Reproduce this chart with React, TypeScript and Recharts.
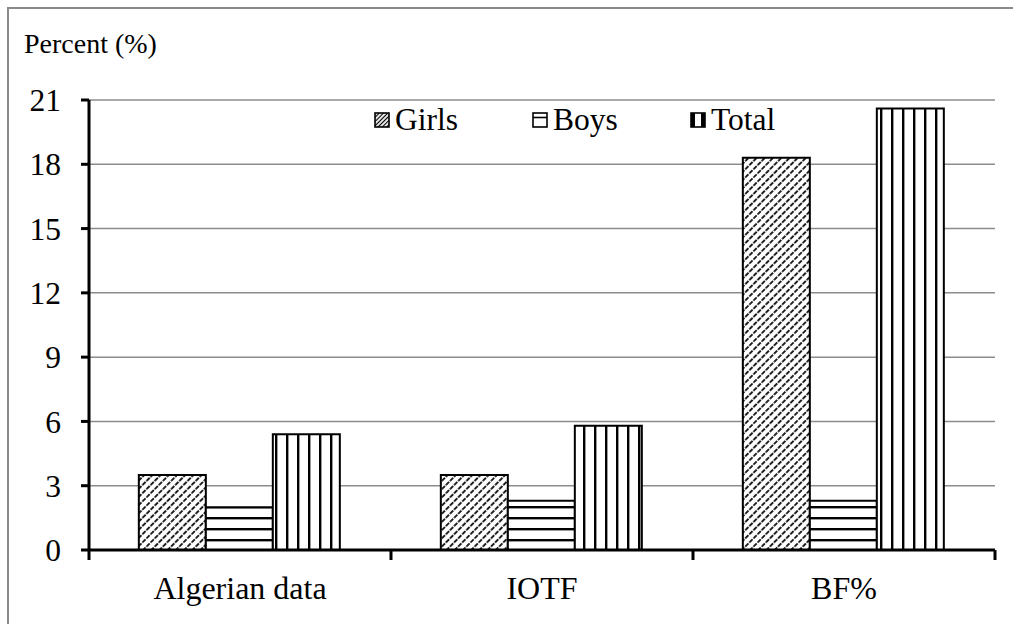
import React from 'react';
import { BarChart, Bar, XAxis, YAxis, CartesianGrid } from 'recharts';

const categories = ['Algerian data', 'IOTF', 'BF%'];
const girls = [3.5, 3.5, 18.3];
const boys = [2.0, 2.3, 2.3];
const total = [5.4, 5.8, 20.6];
const yTicks = [0, 3, 6, 9, 12, 15, 18, 21];
const seriesNames = ['Girls', 'Boys', 'Total'];
const patternIds = ['pGirls', 'pBoys', 'pTotal'];

const data = categories.map((c, i) => ({ category: c, Girls: girls[i], Boys: boys[i], Total: total[i] }));

const FONT = '"Liberation Serif", "Times New Roman", serif';
const X_TICK_SIZE = 0;
const X_TICK_MARGIN = 26;

const XTick = (props: any) => {
  const { x, y, payload, index, visibleTicksCount } = props;
  const half = payload && payload.offset ? payload.offset : 0;
  const axisY = y - X_TICK_SIZE - X_TICK_MARGIN;
  return (
    <g>
      <line x1={x - half} x2={x - half} y1={axisY} y2={axisY + 10} stroke="#000" strokeWidth={3} />
      {index === visibleTicksCount - 1 && (
        <line x1={x + half} x2={x + half} y1={axisY} y2={axisY + 10} stroke="#000" strokeWidth={3} />
      )}
      <text x={x} y={y} dy="0.71em" textAnchor="middle" fill="#000" fontSize={32} fontFamily={FONT}>
        {payload.value}
      </text>
    </g>
  );
};

const Patterns = () => (
  <svg width={0} height={0} style={{ position: 'absolute' }}>
    <defs>
      <pattern id="pGirls" patternUnits="userSpaceOnUse" width={5.8} height={5.8} patternTransform="rotate(45)">
        <rect x={0} y={0} width={5.8} height={5.8} fill="#fff" />
        <line x1={2.9} y1={0} x2={2.9} y2={5.8} stroke="#000" strokeWidth={1.7} strokeDasharray="4.6 1.2" />
      </pattern>
      <pattern id="pBoys" patternUnits="userSpaceOnUse" width={11} height={11}>
        <rect x={0} y={0} width={11} height={11} fill="#fff" />
        <rect x={0} y={0} width={11} height={2.4} fill="#000" />
      </pattern>
      <pattern id="pTotal" patternUnits="userSpaceOnUse" width={11} height={11}>
        <rect x={0} y={0} width={11} height={11} fill="#fff" />
        <rect x={0} y={0} width={2.4} height={11} fill="#000" />
      </pattern>
      <pattern id="iGirls" patternUnits="userSpaceOnUse" width={3} height={3} patternTransform="rotate(45)">
        <rect x={0} y={0} width={3} height={3} fill="#fff" />
        <line x1={1.5} y1={0} x2={1.5} y2={3} stroke="#000" strokeWidth={1.2} />
      </pattern>
    </defs>
  </svg>
);

const LegendIcon = ({ i }: { i: number }) => {
  if (i === 0)
    return (
      <svg width={16} height={16}>
        <rect x={1} y={1} width={14} height={14} fill="url(#iGirls)" stroke="#000" strokeWidth={1.6} />
      </svg>
    );
  if (i === 1)
    return (
      <svg width={16} height={16}>
        <rect x={1} y={1} width={14} height={14} fill="#fff" stroke="#000" strokeWidth={1.6} />
        <line x1={1} x2={15} y1={5.5} y2={5.5} stroke="#000" strokeWidth={1.6} />
      </svg>
    );
  return (
    <svg width={16} height={16}>
      <rect x={1} y={1} width={14} height={14} fill="#fff" stroke="#000" strokeWidth={1.6} />
      <rect x={1} y={1} width={4} height={14} fill="#000" />
      <rect x={11} y={1} width={4} height={14} fill="#000" />
    </svg>
  );
};

export default function App() {
  return (
    <div style={{ position: 'absolute', left: 0, top: 0, width: 1013, height: 624, background: '#fff', overflow: 'hidden' }}>
      <Patterns />
      <div
        style={{
          position: 'absolute',
          left: 7,
          top: 7,
          width: 1100,
          height: 700,
          border: '2px solid #8a8a8a',
          boxSizing: 'border-box',
        }}
      />
      <div
        style={{
          position: 'absolute',
          left: 24,
          top: 28,
          fontFamily: FONT,
          fontSize: 28,
          lineHeight: '32px',
          color: '#000',
          whiteSpace: 'nowrap',
        }}
      >
        Percent (%)
      </div>
      <div style={{ position: 'absolute', left: 0, top: 0 }}>
        <BarChart
          width={1013}
          height={624}
          data={data}
          margin={{ top: 100, right: 18, bottom: 24, left: 29 }}
          barCategoryGap="16.5%"
          barGap={0}
        >
          <CartesianGrid vertical={false} stroke="#8c8c8c" strokeWidth={1.5} />
          <XAxis
            dataKey="category"
            height={50}
            axisLine={{ stroke: '#000', strokeWidth: 3 }}
            tickLine={false}
            tickSize={X_TICK_SIZE}
            tickMargin={X_TICK_MARGIN}
            tick={<XTick />}
            interval={0}
          />
          <YAxis
            domain={[0, 21]}
            ticks={yTicks}
            interval={0}
            width={60}
            axisLine={{ stroke: '#000', strokeWidth: 3 }}
            tickLine={{ stroke: '#000', strokeWidth: 3 }}
            tickSize={8}
            tickMargin={20}
            tick={{ fill: '#000', fontSize: 31.5, fontFamily: FONT }}
          />
          {seriesNames.map((n, i) => (
            <Bar
              key={n}
              dataKey={n}
              fill={`url(#${patternIds[i]})`}
              stroke="#000"
              strokeWidth={2}
              isAnimationActive={false}
            />
          ))}
        </BarChart>
      </div>
      <div
        style={{
          position: 'absolute',
          left: 374,
          top: 103,
          display: 'flex',
          fontFamily: FONT,
          fontSize: 31.5,
          color: '#000',
        }}
      >
        {seriesNames.map((n, i) => (
          <div key={n} style={{ width: 158, display: 'flex', alignItems: 'center', height: 34 }}>
            <LegendIcon i={i} />
            <span style={{ marginLeft: 5, lineHeight: '34px', whiteSpace: 'nowrap' }}>{n}</span>
          </div>
        ))}
      </div>
    </div>
  );
}
